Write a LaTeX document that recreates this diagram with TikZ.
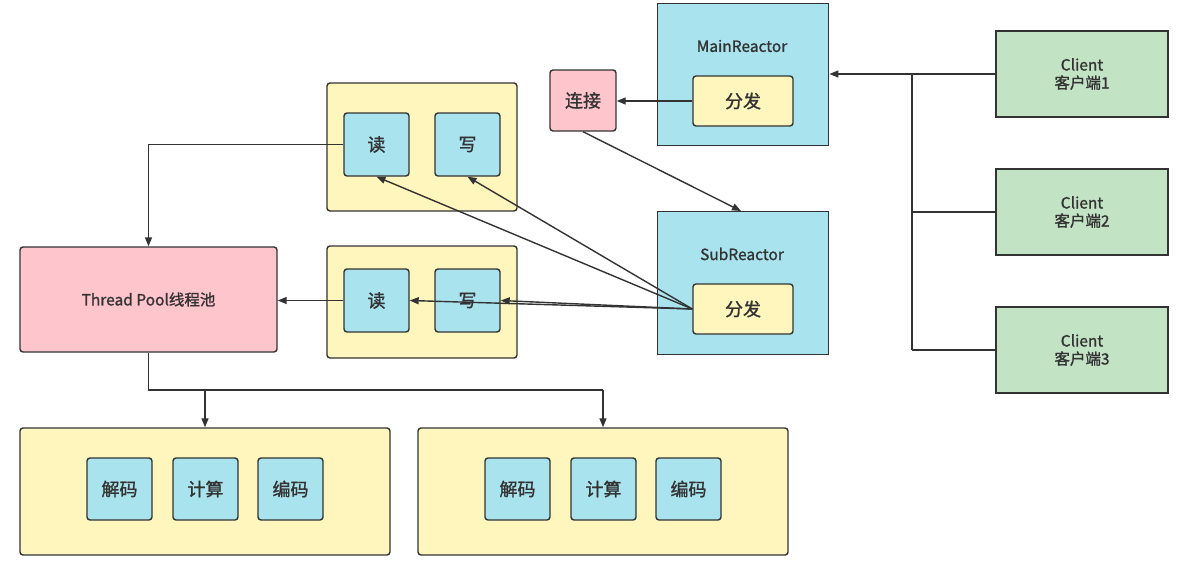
\documentclass[tikz,border=0pt]{standalone}
\usepackage{fontspec}
\setmainfont{Noto Sans CJK SC}[FakeBold=1.2]
\usetikzlibrary{arrows.meta}
\definecolor{cy}{HTML}{A9E4EE}
\definecolor{yl}{HTML}{FFF6BE}
\definecolor{pk}{HTML}{FFC5CC}
\definecolor{gn}{HTML}{C3E4C4}
\definecolor{ln}{HTML}{333333}
\tikzset{
  bx/.style={draw=ln, line width=1.4pt, inner sep=0pt, text=ln, font=\fontsize{18}{20}\selectfont},
  rbox/.style={bx, rounded corners=3pt},
  inbox/.style={rbox, fill=cy, minimum width=65pt, minimum height=63pt},
  cont/.style={rbox, fill=yl},
  lat/.style={text=ln, font=\fontsize{15.5}{18}\selectfont},
  arr/.style={draw=ln, line width=1.4pt, -{Triangle[length=9pt,width=7pt]}},
  ln/.style={draw=ln, line width=1.4pt},
}
\begin{document}
\begin{tikzpicture}[x=1pt,y=-1pt]
\useasboundingbox (0,0) rectangle (1183,570);
% Main reactor
\node[bx, fill=cy, minimum width=171pt, minimum height=142pt, anchor=north west] (main) at (657,3) {};
\node[lat] (maint) at (742,46) {MainReactor};
\node[rbox, fill=yl, minimum width=100pt, minimum height=50pt] (mfd) at (743,101) {分发};
% connect
\node[rbox, fill=pk, minimum width=66pt, minimum height=61pt] (conn) at (583,100.5) {连接};
% top container
\node[cont, minimum width=190pt, minimum height=128pt] (c1) at (422,147) {};
\node[inbox] (r1) at (376.5,144.5) {读};
\node[inbox] (w1) at (467.5,144.5) {写};
% second container
\node[cont, minimum width=190pt, minimum height=112pt] (c2) at (422,302) {};
\node[inbox] (r2) at (376.5,300.5) {读};
\node[inbox] (w2) at (467.5,300.5) {写};
% SubReactor
\node[bx, fill=cy, minimum width=171pt, minimum height=143pt, anchor=north west] (sub) at (657,211) {};
\node[lat] (subt) at (742,254) {SubReactor};
\node[rbox, fill=yl, minimum width=100pt, minimum height=50pt] (sfd) at (743,309) {分发};
% Thread pool
\node[rbox, fill=pk, minimum width=257pt, minimum height=105pt, lat] (tp) at (148.5,299.5) {Thread Pool线程池};
% bottom containers
\node[cont, minimum width=370pt, minimum height=127pt] (b1) at (205,491.5) {};
\node[inbox, minimum height=62pt] (d1) at (119.5,489) {解码};
\node[inbox, minimum height=62pt] (j1) at (205.5,489) {计算};
\node[inbox, minimum height=62pt] (e1) at (290.5,489) {编码};
\node[cont, minimum width=370pt, minimum height=127pt] (b2) at (603,491.5) {};
\node[inbox, minimum height=62pt] (d2) at (517.5,489) {解码};
\node[inbox, minimum height=62pt] (j2) at (603.5,489) {计算};
\node[inbox, minimum height=62pt] (e2) at (688.5,489) {编码};
% clients
\node[bx, fill=gn, minimum width=172pt, minimum height=86pt, align=center, lat] (cl1) at (1082,74) {Client\\客户端1};
\node[bx, fill=gn, minimum width=172pt, minimum height=86pt, align=center, lat] (cl2) at (1082,212) {Client\\客户端2};
\node[bx, fill=gn, minimum width=172pt, minimum height=86pt, align=center, lat] (cl3) at (1082,350) {Client\\客户端3};
% connectors
\coordinate (jn) at (912,74);
\draw[arr] (cl1.west) -- (main.east |- cl1.west);
\draw[ln] (jn) -- (912,350);
\draw[ln] (cl2.west) -- (912,212);
\draw[ln] (cl3.west) -- (912,350);
\draw[arr] (mfd.west) -- (conn.east |- mfd.west);
\draw[arr] (conn.south) -- (741,211);
\draw[arr] (sfd.west) -- (r1.south);
\draw[arr] (sfd.west) -- (w1.south);
\draw[arr] (sfd.west) -- (w2.east);
\draw[arr] (sfd.west) -- (r2.east);
\draw[arr] (r1.west) -| (tp.north);
\draw[arr] (r2.west) -- (tp.east |- r2.west);
\coordinate (tpb) at (148.5,390);
\draw[ln] (tp.south) -- (tpb) -- (603,390);
\draw[arr] (205,390) -- (b1.north);
\draw[arr] (603,390) -- (b2.north);
\end{tikzpicture}
\end{document}
